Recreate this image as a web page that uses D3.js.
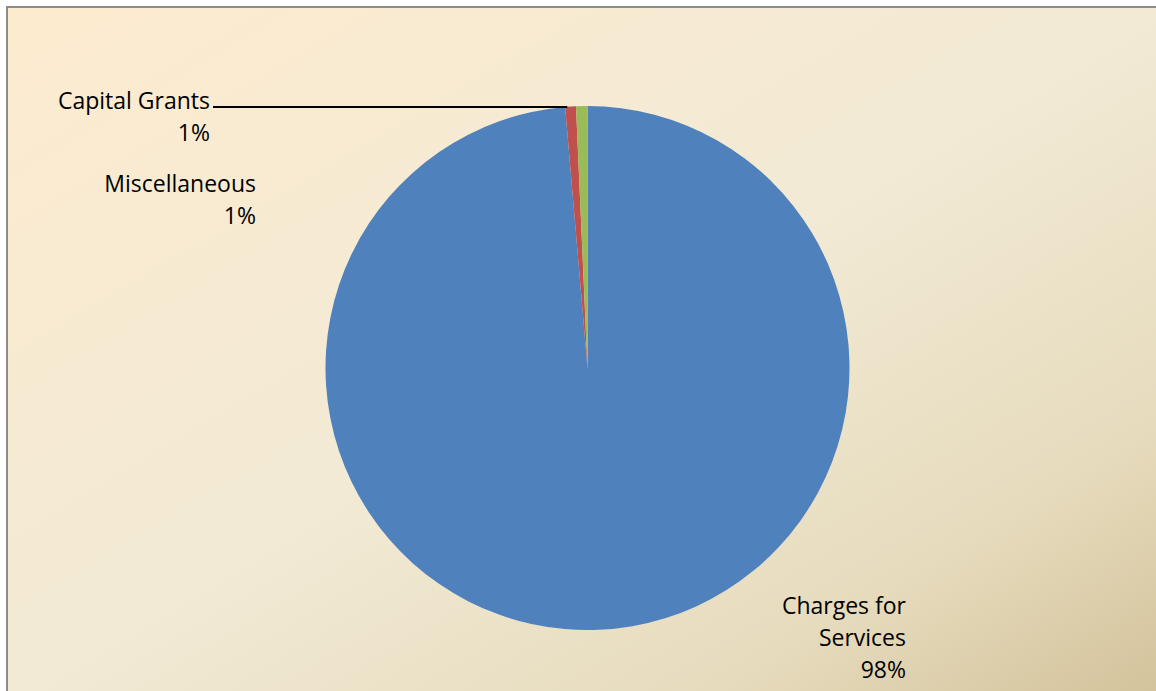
<!DOCTYPE html>
<html>
<head>
<meta charset="utf-8">
<script src="https://cdn.jsdelivr.net/npm/d3@7"></script>
<style>
  html, body { margin: 0; padding: 0; background: #fff; }
  svg { display: block; }
</style>
</head>
<body>
<div id="chart"></div>
<script>
// slice data (Excel order: first slice starts at 12 o'clock, clockwise)
const categories = ["Charges for Services", "Capital Grants", "Miscellaneous"];
const values = [98.6, 0.66, 0.7];
const pctLabels = ["98%", "1%", "1%"];
const colors = ["#4f81bd", "#c0504d", "#9bbb59"];

function init() {
  const width = 1156;
  const height = 691;

  const svg = d3.select("#chart").append("svg")
      .attr("width", width)
      .attr("height", height)
      .attr("style", "font: 23px 'Open Sans', sans-serif;");

  const defs = svg.append("defs");
  const grad = defs.append("linearGradient")
      .attr("id", "bg")
      .attr("x1", "0%").attr("y1", "0%")
      .attr("x2", "100%").attr("y2", "100%");
  grad.append("stop").attr("offset", "0%").attr("stop-color", "#fdebcf");
  grad.append("stop").attr("offset", "50%").attr("stop-color", "#f2ead5");
  grad.append("stop").attr("offset", "80%").attr("stop-color", "#e6dbbd");
  grad.append("stop").attr("offset", "100%").attr("stop-color", "#d3c29a");

  // chart area + frame
  svg.append("rect")
      .attr("x", 7).attr("y", 7)
      .attr("width", width).attr("height", height)
      .attr("fill", "url(#bg)")
      .attr("stroke", "#8c8c8c")
      .attr("stroke-width", 2);

  const cx = 587.5, cy = 368, r = 262;

  const pie = d3.pie().sort(null).value(d => d.value);
  const arcs = pie(categories.map((c, i) => ({ name: c, value: values[i], color: colors[i] })));
  const arc = d3.arc().innerRadius(0).outerRadius(r);

  const g = svg.append("g").attr("transform", `translate(${cx},${cy})`);
  g.selectAll("path")
    .data(arcs)
    .join("path")
      .attr("d", arc)
      .attr("fill", d => d.data.color);

  // leader line for Capital Grants
  const cg = arcs[1];
  const a = cg.startAngle + (cg.endAngle - cg.startAngle) * 0.2;
  const px = Math.sin(a) * r, py = -Math.cos(a) * r;
  g.append("polyline")
      .attr("points", `${213 - cx},${107 - cy} ${px - 1},${107 - cy} ${px},${py}`)
      .attr("fill", "none")
      .attr("stroke", "#000")
      .attr("stroke-width", 2);

  // labels
  const labelPos = [
    { x: 906, y: 614, lines: ["Charges for", "Services"] },
    { x: 210, y: 109, lines: ["Capital Grants"] },
    { x: 256, y: 192, lines: ["Miscellaneous"] }
  ];
  labelPos.forEach((p, i) => {
    const t = svg.append("text")
        .attr("text-anchor", "end")
        .attr("fill", "#000");
    p.lines.concat([pctLabels[i]]).forEach((s, j) => {
      t.append("tspan").attr("x", p.x).attr("y", p.y + j * 32).text(s);
    });
  });
}

init();
</script>
</body>
</html>
